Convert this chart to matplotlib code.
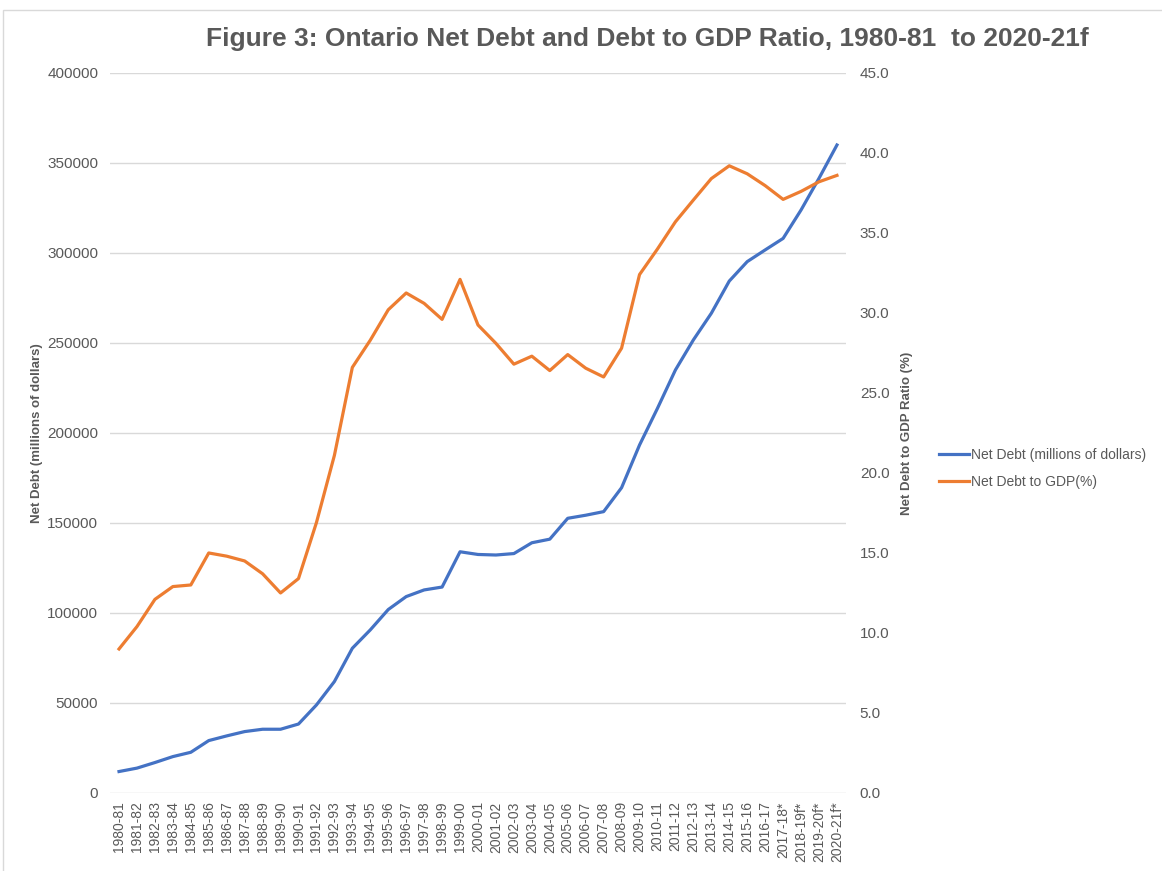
import numpy as np
import matplotlib
matplotlib.use("Agg")
import matplotlib.pyplot as plt
from matplotlib.patches import Rectangle
from matplotlib.ticker import FormatStrFormatter

years = ["1980-81", "1981-82", "1982-83", "1983-84", "1984-85", "1985-86", "1986-87",
         "1987-88", "1988-89", "1989-90", "1990-91", "1991-92", "1992-93", "1993-94",
         "1994-95", "1995-96", "1996-97", "1997-98", "1998-99", "1999-00", "2000-01",
         "2001-02", "2002-03", "2003-04", "2004-05", "2005-06", "2006-07", "2007-08",
         "2008-09", "2009-10", "2010-11", "2011-12", "2012-13", "2013-14", "2014-15",
         "2015-16", "2016-17", "2017-18*", "2018-19f*", "2019-20f*", "2020-21f*"]

net_debt = [11900, 13800, 16900, 20200, 22600, 29100, 31700, 34100, 35400, 35400,
            38300, 48900, 61900, 80400, 90600, 101900, 109100, 112800, 114400, 134000,
            132500, 132200, 133000, 139000, 141000, 152600, 154300, 156300, 169600, 193300,
            213700, 235000, 251700, 266500, 284400, 295200, 301700, 308100, 323900, 341500,
            360000]

debt_gdp = [9.0, 10.4, 12.1, 12.9, 13.0, 15.0, 14.8, 14.5, 13.7, 12.5,
            13.4, 16.9, 21.1, 26.6, 28.3, 30.2, 31.25, 30.6, 29.6, 32.1,
            29.25, 28.1, 26.8, 27.3, 26.4, 27.4, 26.55, 26.0, 27.8, 32.4,
            34.0, 35.7, 37.06, 38.4, 39.2, 38.7, 37.96, 37.1, 37.6, 38.2,
            38.6]

grey = "#595959"
blue = "#4472C4"
orange = "#ED7D31"

plt.rcParams['font.family'] = ['Liberation Sans', 'DejaVu Sans']

fig = plt.figure(figsize=(11.62, 8.71), dpi=100)
ax = fig.add_axes([0.0947, 0.0896, 0.6333, 0.8266])
ax2 = ax.twinx()

x = np.arange(len(years))
l1, = ax.plot(x, net_debt, color=blue, lw=2.3, label="Net Debt (millions of dollars)")
l2, = ax2.plot(x, debt_gdp, color=orange, lw=2.3, label="Net Debt to GDP(%)")

ax.set_xlim(-0.5, len(years) - 0.5)
ax.set_ylim(0, 400000)
ax.set_yticks(np.arange(0, 400001, 50000))
ax2.set_ylim(0, 45)
ax2.set_yticks(np.arange(0, 45.1, 5))
ax2.yaxis.set_major_formatter(FormatStrFormatter("%.1f"))

ax.set_xticks(x)
ax.set_xticklabels(years, rotation=90, fontsize=10, color=grey)
ax.grid(axis="y", color="#d9d9d9", lw=1)
ax.set_axisbelow(True)
for a in (ax, ax2):
    for s in a.spines.values():
        s.set_visible(False)
    a.tick_params(length=0, labelcolor=grey)
ax.tick_params(axis="y", labelsize=11, pad=8.5)
ax2.tick_params(axis="y", labelsize=11, pad=10)
ax.tick_params(axis="x", pad=6)

ax.set_ylabel("Net Debt (millions of dollars)", fontsize=9.5, fontweight="bold", color=grey, labelpad=3)
ax2.set_ylabel("Net Debt to GDP Ratio (%)", fontsize=9.5, fontweight="bold", color=grey, labelpad=8)

fig.text(0.557, 0.955, "Figure 3: Ontario Net Debt and Debt to GDP Ratio, 1980-81  to 2020-21f",
         ha="center", va="center", fontsize=19, fontweight="bold", color=grey)

fig.legend(handles=[l1, l2], loc="center left", bbox_to_anchor=(0.797, 0.462),
           frameon=False, fontsize=10, labelcolor=grey, handlelength=2.2,
           handletextpad=0.1, labelspacing=0.9)

fig.patches.append(Rectangle((0.0026, -0.05), 1.2, 1.05 - 0.0115, transform=fig.transFigure,
                             fill=False, edgecolor="#d9d9d9", lw=1))

fig.savefig("out.png", dpi=100)
